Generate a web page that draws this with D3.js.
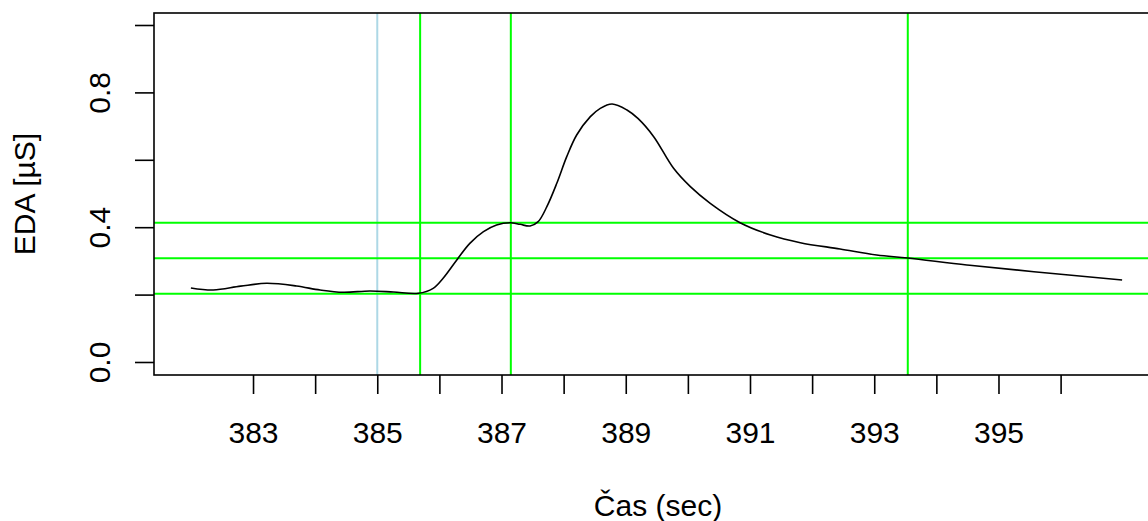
<!DOCTYPE html>
<html>
<head>
<meta charset="utf-8">
<script src="https://cdn.jsdelivr.net/npm/d3@7"></script>
<style>
  body { margin: 0; background: #fff; }
  text { font-family: "Liberation Sans", Arial, sans-serif; fill: #000; }
</style>
</head>
<body>
<div id="chart"></div>
<script>
// Data
const time = [382.0, 382.36, 382.8, 383.22, 383.7, 384.08, 384.45, 384.88, 385.26, 385.66,
    385.9, 386.06, 386.28, 386.49, 386.71, 386.92, 387.14, 387.3, 387.46, 387.59,
    387.73, 387.89, 388.05, 388.21, 388.43, 388.59, 388.78, 389.02, 389.2, 389.45,
    389.77, 390.04, 390.36, 390.84, 391.33, 391.81, 392.45, 393.04, 393.54, 394.49,
    395.57, 396.99];
const eda = [0.2196, 0.2136, 0.225, 0.2335, 0.2255, 0.2136, 0.2068, 0.2107, 0.2077, 0.2038,
    0.2186, 0.2483, 0.3027, 0.3521, 0.3867, 0.4065, 0.4134, 0.4085, 0.4036, 0.4164,
    0.4609, 0.5302, 0.6093, 0.6736, 0.728, 0.7527, 0.7656, 0.7478, 0.722, 0.6686,
    0.5747, 0.5203, 0.4708, 0.4134, 0.3769, 0.3541, 0.3353, 0.3175, 0.3086, 0.2878,
    0.268, 0.2433];

const xTicks = [383, 384, 385, 386, 387, 388, 389, 390, 391, 392, 393, 394, 395, 396];
const yTicks = [0, 0.2, 0.4, 0.6, 0.8, 1.0];
const yLabelled = [0, 0.4, 0.8];

const markerV = [385.0];                 // light blue
const greenV = [385.69, 387.15, 393.54];
const greenH = [0.4134, 0.3077, 0.2027];

// Layout
const width = 1148, height = 521;
const plot = { left: 154, top: 13, right: 1160, bottom: 375 };

const svg = d3.select("#chart").append("svg")
    .attr("width", width)
    .attr("height", height);

const x = d3.scaleLinear()
    .domain([381.406, 397.6])
    .range([plot.left, plot.right]);

const y = d3.scaleLinear()
    .domain([-0.0386, 1.0356])
    .range([plot.bottom, plot.top]);

svg.append("clipPath").attr("id", "clip")
    .append("rect")
    .attr("x", plot.left).attr("y", plot.top)
    .attr("width", plot.right - plot.left)
    .attr("height", plot.bottom - plot.top);

const inner = svg.append("g").attr("clip-path", "url(#clip)");

// Reference lines
inner.selectAll(".vblue").data(markerV).join("line")
    .attr("x1", d => x(d)).attr("x2", d => x(d))
    .attr("y1", plot.top).attr("y2", plot.bottom)
    .attr("stroke", "#add8e6").attr("stroke-width", 2);

inner.selectAll(".vgreen").data(greenV).join("line")
    .attr("x1", d => x(d)).attr("x2", d => x(d))
    .attr("y1", plot.top).attr("y2", plot.bottom)
    .attr("stroke", "#00ff00").attr("stroke-width", 2);

inner.selectAll(".hgreen").data(greenH).join("line")
    .attr("x1", plot.left).attr("x2", plot.right)
    .attr("y1", d => y(d)).attr("y2", d => y(d))
    .attr("stroke", "#00ff00").attr("stroke-width", 2);

// EDA curve
const points = time.map((t, i) => [t, eda[i]]);
inner.append("path")
    .datum(points)
    .attr("fill", "none")
    .attr("stroke", "#000")
    .attr("stroke-width", 1.6)
    .attr("d", d3.line()
        .x(d => x(d[0]))
        .y(d => y(d[1]))
        .curve(d3.curveCatmullRom));

// Box
svg.append("rect")
    .attr("x", plot.left).attr("y", plot.top)
    .attr("width", plot.right - plot.left)
    .attr("height", plot.bottom - plot.top)
    .attr("fill", "none")
    .attr("stroke", "#000")
    .attr("stroke-width", 1.6);

// X axis
const xAxis = svg.append("g")
    .attr("transform", `translate(0,${plot.bottom})`)
    .call(d3.axisBottom(x)
        .tickValues(xTicks)
        .tickSize(19)
        .tickFormat(d => d % 2 === 1 ? d : ""));
xAxis.select(".domain").remove();
xAxis.selectAll(".tick line").attr("stroke", "#000").attr("stroke-width", 1.6);
xAxis.selectAll(".tick text")
    .attr("y", 68).attr("dy", null)
    .style("font-size", "30px")
    .attr("font-family", null);

// Y axis
const yAxis = svg.append("g")
    .attr("transform", `translate(${plot.left},0)`)
    .call(d3.axisLeft(y)
        .tickValues(yTicks)
        .tickSize(19)
        .tickFormat(d => yLabelled.includes(d) ? d3.format(".1f")(d) : ""));
yAxis.select(".domain").remove();
yAxis.selectAll(".tick line").attr("stroke", "#000").attr("stroke-width", 1.6);
yAxis.selectAll(".tick text")
    .attr("x", null).attr("dy", null)
    .attr("transform", "translate(-44,0) rotate(-90)")
    .attr("text-anchor", "middle")
    .style("font-size", "30px")
    .attr("font-family", null);

// Axis titles
svg.append("text")
    .attr("x", 658)
    .attr("y", 516)
    .attr("text-anchor", "middle")
    .style("font-size", "30px")
    .text("Čas (sec)");

svg.append("text")
    .attr("transform", `translate(35,${(plot.top + plot.bottom) / 2}) rotate(-90)`)
    .attr("text-anchor", "middle")
    .style("font-size", "30px")
    .text("EDA [µS]");
</script>
</body>
</html>
